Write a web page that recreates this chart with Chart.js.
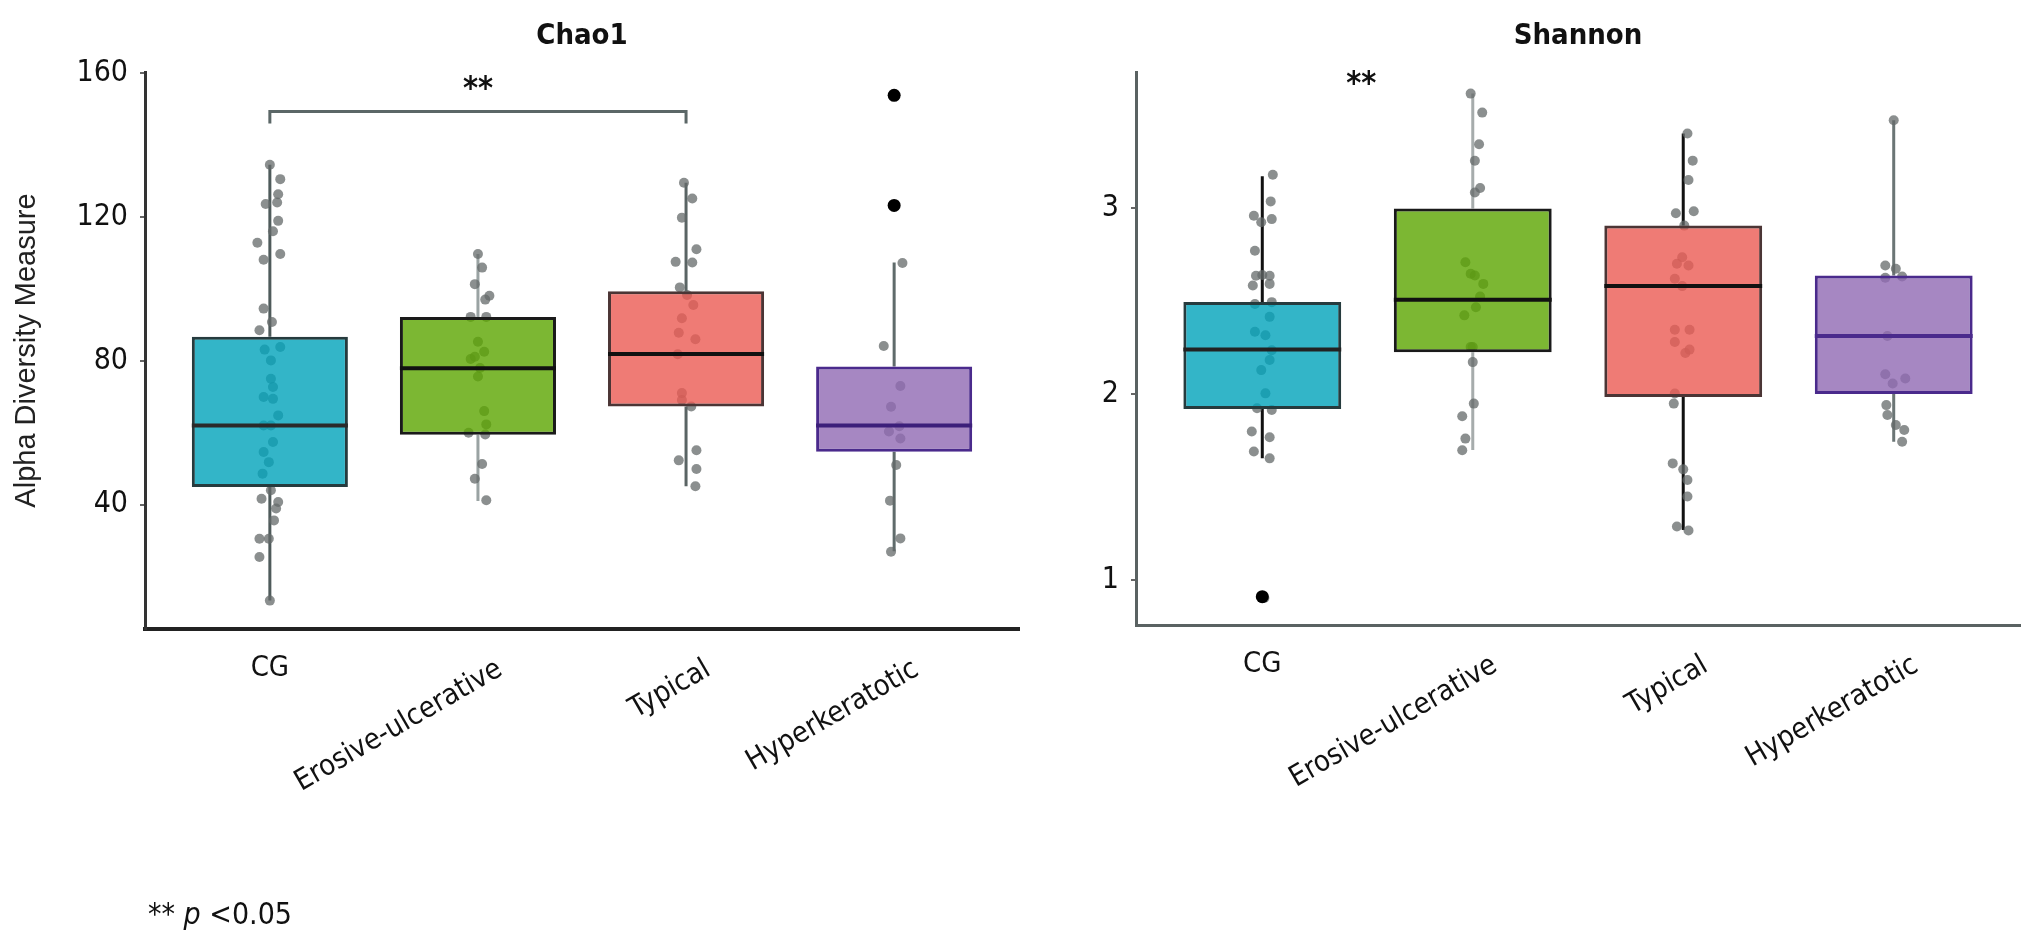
<!DOCTYPE html>
<html>
<head>
<meta charset="utf-8">
<script src="https://cdn.jsdelivr.net/npm/chart.js@4.4.1/dist/chart.umd.min.js"></script>
<style>
  body { margin: 0; background: #fff; width: 2028px; height: 944px; position: relative; overflow: hidden; }
  .panel { position: absolute; top: 0; height: 944px; }
  #left { left: 0; width: 1030px; }
  #right { left: 1030px; width: 998px; }
  #note { position: absolute; left: 148px; top: 899px; font-size: 30px; line-height: 1; color: #111;
          font-family: 'DejaVu Sans Condensed', 'Liberation Sans Narrow', 'Arial Narrow', sans-serif; }
  #note i { font-style: italic; }
</style>
</head>
<body>
<div class="panel" id="left"><canvas id="chao"></canvas></div>
<div class="panel" id="right"><canvas id="shannon"></canvas></div>
<div id="note">** <i>p</i> &lt;0.05</div>
<script>
const groups = ["CG", "Erosive-ulcerative", "Typical", "Hyperkeratotic"];
const chaoTicks = [40, 80, 120, 160];
const shannonTicks = [1, 2, 3];

// box statistics
const chaoLow = [13.3, 41.0, 45.1, 27.0];
const chaoQ1 = [44.9, 59.4, 67.3, 54.7];
const chaoMed = [62.0, 77.9, 81.9, 62.0];
const chaoQ3 = [86.7, 92.2, 99.3, 78.4];
const chaoHigh = [134.5, 109.7, 129.5, 107.3];

const shannonLow = [1.655, 1.70, 1.27, 1.744];
const shannonQ1 = [1.92, 2.225, 1.985, 2.0];
const shannonMed = [2.239, 2.507, 2.58, 2.312];
const shannonQ3 = [2.495, 2.997, 2.905, 2.637];
const shannonHigh = [3.17, 3.614, 3.40, 3.471];

// individual samples (value) and their horizontal jitter (category units)
const chaoCG = [134.5, 130.5, 126.3, 124.0, 123.6, 118.9, 116.0, 112.8, 109.7, 108.1, 94.5, 90.8, 88.5, 83.8, 83.1, 80.1, 75.0, 72.7, 69.9, 69.4, 64.8, 62.0, 62.0, 57.4, 54.6, 51.8, 48.6, 44.0, 41.6, 40.7, 38.9, 35.6, 30.5, 30.5, 25.4, 13.3];
const chaoCGJit = [0, 0.05, 0.04, 0.035, -0.02, 0.04, 0.015, -0.06, 0.05, -0.03, -0.03, 0.01, -0.05, 0.05, -0.025, 0.005, 0.005, 0.015, -0.03, 0.015, 0.04, 0.005, -0.03, 0.015, -0.03, -0.005, -0.035, 0.005, -0.04, 0.04, 0.03, 0.02, -0.05, -0.005, -0.05, 0];
const chaoEro = [109.7, 105.9, 101.3, 98.1, 97.0, 92.2, 92.2, 85.3, 82.5, 81.1, 80.5, 78.0, 75.6, 66.0, 62.3, 60.0, 59.5, 51.3, 47.2, 41.2];
const chaoEroJit = [0, 0.02, -0.015, 0.055, 0.035, -0.035, 0.04, 0, 0.03, -0.015, -0.035, 0.01, 0, 0.03, 0.04, -0.045, 0.035, 0.02, -0.015, 0.04];
const chaoTyp = [129.5, 125.1, 119.8, 111.0, 107.5, 107.3, 100.4, 98.3, 95.5, 91.8, 87.8, 86.0, 81.8, 71.0, 69.1, 67.3, 55.1, 52.3, 49.9, 45.1];
const chaoTypJit = [-0.01, 0.03, -0.02, 0.05, -0.05, 0.03, -0.03, 0.005, 0.035, -0.02, -0.035, 0.045, -0.04, -0.02, -0.02, 0.025, 0.05, -0.035, 0.05, 0.045];
const chaoHyp = [107.2, 84.1, 73.0, 67.2, 61.8, 60.3, 58.4, 51.0, 41.1, 30.6, 26.9];
const chaoHypJit = [0.04, -0.05, 0.03, -0.015, 0.025, -0.025, 0.03, 0.01, -0.02, 0.03, -0.015];
const chaoOutHyp = [153.8, 123.2];

const shanCG = [3.178, 3.035, 2.958, 2.94, 2.923, 2.77, 2.636, 2.636, 2.64, 2.583, 2.592, 2.484, 2.494, 2.415, 2.335, 2.316, 2.236, 2.183, 2.129, 2.004, 1.924, 1.915, 1.799, 1.768, 1.692, 1.655, 0.905];
const shanCGJit = [0.05, 0.04, -0.04, 0.045, -0.005, -0.035, -0.03, 0.035, 0, -0.045, 0.035, -0.035, 0.045, 0.035, -0.035, 0.015, 0.045, 0.035, -0.005, 0.015, -0.025, 0.045, -0.05, 0.035, -0.04, 0.035, 0.01];
const shanEro = [3.614, 3.512, 3.342, 3.253, 3.107, 3.083, 2.708, 2.646, 2.637, 2.592, 2.524, 2.467, 2.423, 2.253, 2.253, 2.172, 1.949, 1.881, 1.761, 1.699];
const shanEroJit = [-0.01, 0.045, 0.03, 0.01, 0.035, 0.01, -0.035, -0.01, 0.01, 0.05, 0.035, 0.015, -0.04, 0, -0.01, 0, 0.005, -0.05, -0.035, -0.05];
const shanTyp = [3.40, 3.254, 3.15, 2.982, 2.971, 2.905, 2.735, 2.70, 2.691, 2.62, 2.58, 2.346, 2.346, 2.28, 2.239, 2.221, 2.003, 1.949, 1.628, 1.596, 1.539, 1.45, 1.289, 1.268];
const shanTypJit = [0.02, 0.045, 0.025, 0.05, -0.035, 0.005, -0.005, -0.03, 0.025, -0.04, -0.005, -0.04, 0.03, -0.04, 0.03, 0.01, -0.04, -0.045, -0.05, 0, 0.02, 0.02, -0.03, 0.025];
const shanHyp = [3.471, 2.691, 2.673, 2.625, 2.632, 2.312, 2.107, 2.084, 2.057, 1.941, 1.888, 1.834, 1.807, 1.744];
const shanHypJit = [0, -0.04, 0.01, -0.04, 0.04, -0.03, -0.04, 0.055, -0.005, -0.035, -0.03, 0.01, 0.05, 0.04];
const shanOutCG = [0.912];

// significance marks
const chaoBracket = [[1, 146], [1, 149.3], [3, 149.3], [3, 146]];
const chaoStars = [2, 155.5];
const shanStars = [1.47, 3.66];

const condensed = "'DejaVu Sans Condensed', 'Liberation Sans Narrow', 'Arial Narrow', sans-serif";
const fills = ["rgba(0,163,186,0.8)", "rgba(91,165,0,0.8)", "rgba(235,90,83,0.8)", "rgba(144,105,179,0.8)"];
const borders = ["#263b3e", "#1a1a1a", "#4b3535", "#4a2a8c"];
const BOX_HALF = 0.375; // ggplot default box width 0.75

const textPlugin = {
    id: "panelText",
    afterDraw(chart, args, opts) {
        const { ctx, chartArea } = chart;
        const x = chart.scales.x;
        const y = chart.scales.y;
        ctx.save();
        ctx.fillStyle = "#111";
        ctx.font = "bold 29px " + condensed;
        ctx.textAlign = "center";
        ctx.textBaseline = "middle";
        ctx.fillText(opts.title, (chartArea.left + chartArea.right) / 2, 36);

        ctx.font = "bold 32px " + condensed;
        ctx.fillText("**", x.getPixelForValue(opts.stars[0]), y.getPixelForValue(opts.stars[1]));

        ctx.font = "29px " + condensed;
        groups.forEach((g, i) => {
            const px = x.getPixelForValue(i + 1);
            ctx.save();
            ctx.textBaseline = "top";
            if (i === 0) {
                ctx.textAlign = "center";
                ctx.fillText(g, px, chartArea.bottom + 25);
            } else {
                ctx.translate(px + 15, chartArea.bottom + 26);
                ctx.rotate(-Math.PI / 6);
                ctx.textAlign = "right";
                ctx.fillText(g, 0, 0);
            }
            ctx.restore();
        });
        ctx.restore();
    },
};

function buildChart(canvasId, p) {
    const datasets = [];
    // whiskers
    groups.forEach((g, i) => {
        datasets.push({
            type: "line",
            data: [
                { x: i + 1, y: p.high[i] }, { x: i + 1, y: p.q3[i] }, { x: i + 1, y: null },
                { x: i + 1, y: p.q1[i] }, { x: i + 1, y: p.low[i] },
            ],
            borderColor: p.whisker[i],
            borderWidth: 3,
            pointRadius: 0,
            spanGaps: false,
            order: 5,
        });
    });
    // jittered samples
    p.points.forEach((vals, i) => {
        datasets.push({
            type: "scatter",
            data: vals.map((v, k) => ({ x: i + 1 + p.jit[i][k], y: v })),
            backgroundColor: "rgba(100,106,106,0.75)",
            borderWidth: 0,
            pointRadius: 5,
            order: 4,
        });
    });
    // boxes
    datasets.push({
        type: "bar",
        data: groups.map((g, i) => ({ x: i + 1, y: [p.q1[i], p.q3[i]] })),
        backgroundColor: fills,
        borderColor: borders,
        borderWidth: 3,
        borderSkipped: false,
        categoryPercentage: 1,
        barPercentage: 0.75,
        order: 3,
    });
    // medians
    groups.forEach((g, i) => {
        datasets.push({
            type: "line",
            data: [{ x: i + 1 - BOX_HALF, y: p.med[i] }, { x: i + 1 + BOX_HALF, y: p.med[i] }],
            borderColor: p.medColor[i],
            borderWidth: 4,
            pointRadius: 0,
            order: 2,
        });
    });
    // outliers
    p.outliers.forEach(([gi, vals]) => {
        datasets.push({
            type: "scatter",
            data: vals.map((v) => ({ x: gi, y: v })),
            backgroundColor: "#000",
            borderWidth: 0,
            pointRadius: 6.5,
            order: 1,
        });
    });
    if (p.bracket) {
        datasets.push({
            type: "line",
            data: p.bracket.map(([bx, by]) => ({ x: bx, y: by })),
            borderColor: "#5b6767",
            borderWidth: 3,
            pointRadius: 0,
            order: 0,
        });
    }

    return new Chart(document.getElementById(canvasId), {
        type: "bar",
        data: { datasets },
        options: {
            responsive: true,
            maintainAspectRatio: false,
            animation: false,
            events: [],
            layout: { padding: p.padding },
            plugins: {
                legend: { display: false },
                tooltip: { enabled: false },
                panelText: { title: p.title, stars: p.stars },
            },
            scales: {
                x: {
                    type: "linear",
                    min: 0.4,
                    max: 4.6,
                    offset: false,
                    afterBuildTicks: (s) => { s.ticks = groups.map((g, i) => ({ value: i + 1 })); },
                    afterFit: (s) => { s.height = 0; },
                    ticks: { display: false },
                    grid: { display: false, drawTicks: false },
                    border: { display: true, color: p.xAxisColor, width: p.xAxisWidth },
                },
                y: {
                    type: "linear",
                    min: p.yMin,
                    max: p.yMax,
                    afterBuildTicks: (s) => { s.ticks = p.ticks.map((v) => ({ value: v })); },
                    afterFit: (s) => { s.width = p.yWidth; },
                    ticks: { color: "#111", padding: 12, font: { family: condensed, size: 30 } },
                    grid: { display: true, drawOnChartArea: false, drawTicks: true, tickLength: 5, color: "#666", lineWidth: 2 },
                    border: { display: true, color: p.yAxisColor, width: 3 },
                    title: p.yTitle
                        ? {
                              display: true,
                              text: p.yTitle,
                              color: "#222",
                              font: { family: "'Liberation Sans', Arial, sans-serif", size: 29 },
                              padding: { top: 10, bottom: 0 },
                          }
                        : { display: false },
                },
            },
        },
        plugins: [textPlugin],
    });
}

buildChart("chao", {
    title: "Chao1",
    low: chaoLow, q1: chaoQ1, med: chaoMed, q3: chaoQ3, high: chaoHigh,
    points: [chaoCG, chaoEro, chaoTyp, chaoHyp],
    jit: [chaoCGJit, chaoEroJit, chaoTypJit, chaoHypJit],
    outliers: [[4, chaoOutHyp]],
    bracket: chaoBracket,
    stars: chaoStars,
    ticks: chaoTicks,
    yMin: 5.4, yMax: 160.3,
    yWidth: 145,
    yTitle: "Alpha Diversity Measure",
    padding: { left: 0, right: 11, top: 72, bottom: 315 },
    whisker: ["#4f5b5b", "#9aa3a3", "#5a6464", "#5f6b6b"],
    medColor: ["#2a2a2a", "#111", "#111", "#3c1f7a"],
    xAxisColor: "#222", xAxisWidth: 4,
    yAxisColor: "#333",
});

buildChart("shannon", {
    title: "Shannon",
    low: shannonLow, q1: shannonQ1, med: shannonMed, q3: shannonQ3, high: shannonHigh,
    points: [shanCG, shanEro, shanTyp, shanHyp],
    jit: [shanCGJit, shanEroJit, shanTypJit, shanHypJit],
    outliers: [[1, shanOutCG]],
    bracket: null,
    stars: shanStars,
    ticks: shannonTicks,
    yMin: 0.76, yMax: 3.73,
    yWidth: 106,
    yTitle: null,
    padding: { left: 0, right: 8, top: 72, bottom: 319 },
    whisker: ["#111", "#a6acac", "#111", "#6b7575"],
    medColor: ["#222", "#111", "#111", "#4a2a8c"],
    xAxisColor: "#5a6262", xAxisWidth: 3,
    yAxisColor: "#5a6262",
});
</script>
</body>
</html>
